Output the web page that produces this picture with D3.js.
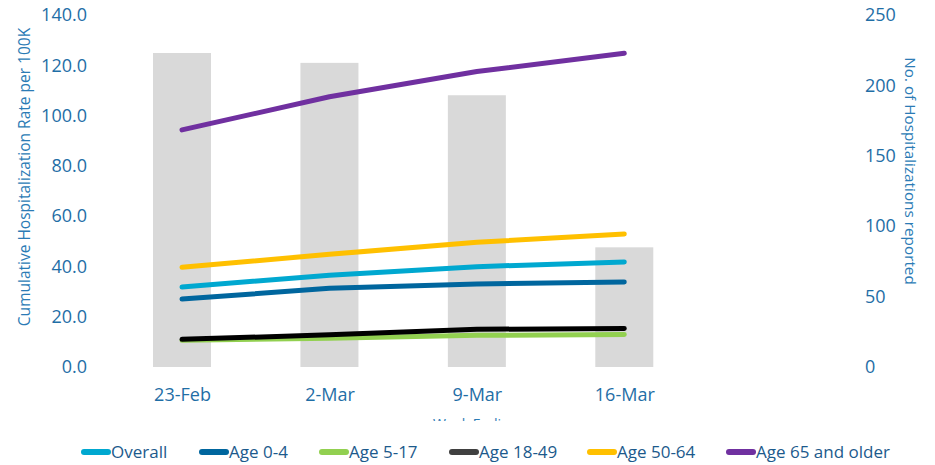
<!DOCTYPE html>
<html>
<head>
<meta charset="utf-8">
<script src="https://cdn.jsdelivr.net/npm/d3@7"></script>
<style>
  html, body { margin: 0; padding: 0; background: #fff; }
  svg { display: block; font-family: "Open Sans", sans-serif; }
</style>
</head>
<body>
<svg id="chart" width="935" height="465"></svg>
<script>
const weeks = ["23-Feb", "2-Mar", "9-Mar", "16-Mar"];
const hospCounts = [223, 216, 193, 85];
const seriesNames = ["Overall", "Age 0-4", "Age 5-17", "Age 18-49", "Age 50-64", "Age 65 and older"];
const overall = [31.8, 36.5, 39.9, 41.8];
const age0to4 = [27.0, 31.3, 33.0, 33.8];
const age5to17 = [10.6, 11.4, 12.6, 12.9];
const age18to49 = [11.0, 12.8, 15.0, 15.3];
const age50to64 = [39.7, 44.8, 49.6, 52.9];
const age65plus = [94.3, 107.5, 117.5, 124.8];
const seriesColors = ["#00A8D0", "#00669E", "#92D050", "#000000", "#FFC000", "#7030A0"];
const leftTicks = [0, 20, 40, 60, 80, 100, 120, 140];
const rightTicks = [0, 50, 100, 150, 200, 250];

const seriesData = [overall, age0to4, age5to17, age18to49, age50to64, age65plus];
const legendSwatchColors = ["#00A8D0", "#00669E", "#92D050", "#404040", "#FFC000", "#7030A0"];

const svg = d3.select("#chart");
const tickColor = "#1F6EA6";
const titleColor = "#2B7BB5";

const x = d3.scalePoint().domain(weeks).range([108.3, 698]).padding(0.5);
const yL = d3.scaleLinear().domain([0, 140]).range([367, 15]);
const yR = d3.scaleLinear().domain([0, 250]).range([367, 15]);

// bars
const barW = 58;
svg.append("g").selectAll("rect").data(weeks).join("rect")
  .attr("x", d => x(d) - barW / 2)
  .attr("y", (d, i) => yR(hospCounts[i]))
  .attr("width", barW)
  .attr("height", (d, i) => yR(0) - yR(hospCounts[i]))
  .attr("fill", "#D9D9D9");

// lines
const line = d3.line().x((d, i) => x(weeks[i])).y(d => yL(d));
const order = [2, 3, 1, 0, 4, 5];
svg.append("g").selectAll("path").data(order).join("path")
  .attr("d", k => line(seriesData[k]))
  .attr("fill", "none")
  .attr("stroke", k => seriesColors[k])
  .attr("stroke-width", 5)
  .attr("stroke-linecap", "round")
  .attr("stroke-linejoin", "round");

// left axis
const axL = d3.axisLeft(yL).tickValues(leftTicks).tickFormat(d3.format(".1f")).tickSize(0).tickPadding(0);
const gL = svg.append("g").attr("transform", "translate(87,0)").call(axL);
gL.select(".domain").remove();
gL.selectAll("text").attr("fill", tickColor).style("font-size", "18px").style("font-family", "'Open Sans', sans-serif");

// right axis
const axR = d3.axisRight(yR).tickValues(rightTicks).tickFormat(d3.format("d")).tickSize(0).tickPadding(0);
const gR = svg.append("g").attr("transform", "translate(865,0)").call(axR);
gR.select(".domain").remove();
gR.selectAll("text").attr("fill", tickColor).style("font-size", "18px").style("font-family", "'Open Sans', sans-serif");

// x axis
const axX = d3.axisBottom(x).tickSize(0).tickPadding(0);
const gX = svg.append("g").attr("transform", "translate(0,388)").call(axX);
gX.select(".domain").remove();
gX.selectAll("text").attr("fill", tickColor).style("font-size", "18px").style("font-family", "'Open Sans', sans-serif");

// axis titles
svg.append("text")
  .attr("transform", "translate(30,177) rotate(-90)")
  .attr("text-anchor", "middle")
  .attr("fill", titleColor)
  .style("font-size", "15.5px")
  .text("Cumulative Hospitalization Rate per 100K");

svg.append("text")
  .attr("transform", "translate(905,171) rotate(90)")
  .attr("text-anchor", "middle")
  .attr("fill", titleColor)
  .style("font-size", "15.3px")
  .text("No. of Hospitalizations reported");

// clipped x-axis title
svg.append("clipPath").attr("id", "xtClip")
  .append("rect").attr("x", 0).attr("y", 0).attr("width", 935).attr("height", 421);
svg.append("text")
  .attr("x", 433).attr("y", 428.5)
  .attr("clip-path", "url(#xtClip)")
  .attr("fill", titleColor)
  .style("font-size", "14px")
  .text("Week Ending");

// legend
const legendX = [81, 199, 319, 449, 587, 726];
const lg = svg.append("g");
const items = lg.selectAll("g").data(seriesNames).join("g")
  .attr("transform", (d, i) => `translate(${legendX[i]},452)`);
items.append("line")
  .attr("x1", 3).attr("x2", 27).attr("y1", 0).attr("y2", 0)
  .attr("stroke", (d, i) => legendSwatchColors[i])
  .attr("stroke-width", 6)
  .attr("stroke-linecap", "round");
items.append("text")
  .attr("x", 30).attr("y", 0).attr("dy", "0.36em")
  .attr("fill", "#1C5A8C")
  .style("font-size", "17px")
  .text(d => d);
</script>
</body>
</html>
